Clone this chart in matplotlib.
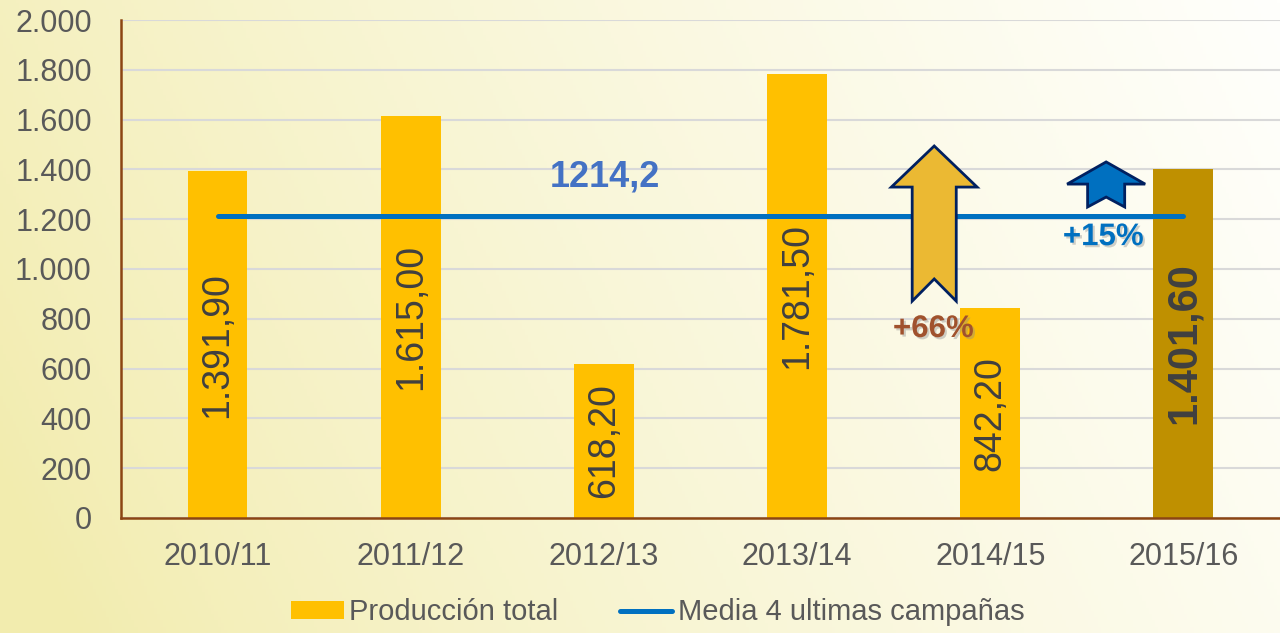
import numpy as np
import matplotlib
matplotlib.use("Agg")
import matplotlib.pyplot as plt
from matplotlib.patches import Polygon, Patch
from matplotlib.lines import Line2D
from matplotlib.ticker import FuncFormatter
import matplotlib.patheffects as pe

# Data
campanas = ["2010/11", "2011/12", "2012/13", "2013/14", "2014/15", "2015/16"]
produccion = [1391.90, 1615.00, 618.20, 1781.50, 842.20, 1401.60]
etiquetas = ["1.391,90", "1.615,00", "618,20", "1.781,50", "842,20", "1.401,60"]
media = 1214.2
media_label = "1214,2"
subida_66 = "+66%"
subida_15 = "+15%"

plt.rcParams["font.family"] = ["Liberation Sans", "DejaVu Sans"]

GRAY = "#595959"
DARK = "#404040"

fig = plt.figure(figsize=(12.8, 6.33), dpi=100)

# Background gradient (yellow on the left, white on the right)
bg = fig.add_axes([0, 0, 1, 1], zorder=-10)
gx, gy = np.meshgrid(np.linspace(0, 1, 400), np.linspace(0, 1, 200))
t = np.clip(0.85 * gx + 0.2 * (1 - gy) - 0.05, 0, 1) ** 0.8
c0 = np.array([242, 236, 174]) / 255
c1 = np.array([255, 255, 252]) / 255
img = c0[None, None, :] * (1 - t[..., None]) + c1[None, None, :] * t[..., None]
bg.imshow(img, aspect="auto", extent=[0, 1, 0, 1], origin="upper")
bg.axis("off")

ax = fig.add_axes([0.0945, 0.1817, 0.9055, 0.7867])
ax.patch.set_alpha(0)

x = np.arange(len(campanas))
colors = ["#FFC000"] * 5 + ["#BF9000"]
ax.bar(x, produccion, width=0.31, color=colors, zorder=2)

# Value labels inside bars
for i, (v, lab) in enumerate(zip(produccion, etiquetas)):
    last = i == len(produccion) - 1
    ax.text(i, v / 2, lab, rotation=90, ha="center", va="center",
            fontsize=30 if last else 27, color=DARK,
            fontweight="bold" if last else "normal", zorder=3)

# Mean line
ax.plot([x[0], x[-1]], [media, media], color="#0070C0", lw=3.6,
        solid_capstyle="round", zorder=4)
ax.text(2.003, 1370, media_label, color="#4472C4", fontsize=26,
        fontweight="bold", ha="center", va="center", zorder=5)

# Arrows
def arrow(cx, hw, sw, tip, base, bottom, notch, fc):
    pts = [(cx, tip), (cx + hw, base), (cx + sw, base), (cx + sw, bottom),
           (cx, notch), (cx - sw, bottom), (cx - sw, base), (cx - hw, base)]
    ax.add_patch(Polygon(pts, closed=True, facecolor=fc, edgecolor="#002060",
                         lw=2, zorder=6, joinstyle="miter"))

arrow(3.71, 0.222, 0.114, 1494, 1329, 871, 960, "#EBB933")
arrow(4.60, 0.202, 0.096, 1430, 1341, 1249, 1289, "#0070C0")

shadow = [pe.withSimplePatchShadow(offset=(1.5, -1.5), shadow_rgbFace="#8c8c8c", alpha=0.4)]
ax.text(3.705, 759, subida_66, color="#A0522D", fontsize=22.5, fontweight="bold",
        ha="center", va="center", zorder=7, path_effects=shadow)
ax.text(4.585, 1128, subida_15, color="#0070C0", fontsize=22.5, fontweight="bold",
        ha="center", va="center", zorder=7, path_effects=shadow)

# Axes styling
ax.set_xlim(-0.5, 5.5)
ax.set_ylim(0, 2000)
ax.set_yticks(np.arange(0, 2001, 200))
ax.yaxis.set_major_formatter(FuncFormatter(lambda v, p: f"{int(v):,}".replace(",", ".")))
ax.set_xticks(x)
ax.set_xticklabels(campanas)
ax.tick_params(axis="both", length=0, labelsize=22, labelcolor=GRAY)
ax.tick_params(axis="y", pad=21)
ax.tick_params(axis="x", pad=17)
ax.grid(axis="y", color="#D9D9D9", lw=1.5, zorder=0)
ax.set_axisbelow(True)
for s in ["top", "right"]:
    ax.spines[s].set_visible(False)
for s in ["left", "bottom"]:
    ax.spines[s].set_color("#8B4513")
    ax.spines[s].set_linewidth(1.8)

# Legend
handles = [Patch(facecolor="#FFC000", edgecolor="none"),
           Line2D([0], [0], color="#0070C0", lw=3.6, solid_capstyle="round")]
labels = ["Producción total", "Media 4 ultimas campañas"]
fig.legend(handles, labels, loc="center", bbox_to_anchor=(0.514, 0.033), ncol=2,
           frameon=False, fontsize=21, labelcolor=GRAY, handlelength=1.8,
           handleheight=0.55, handletextpad=0.2, columnspacing=2.1)

fig.savefig("out.png", dpi=100)
